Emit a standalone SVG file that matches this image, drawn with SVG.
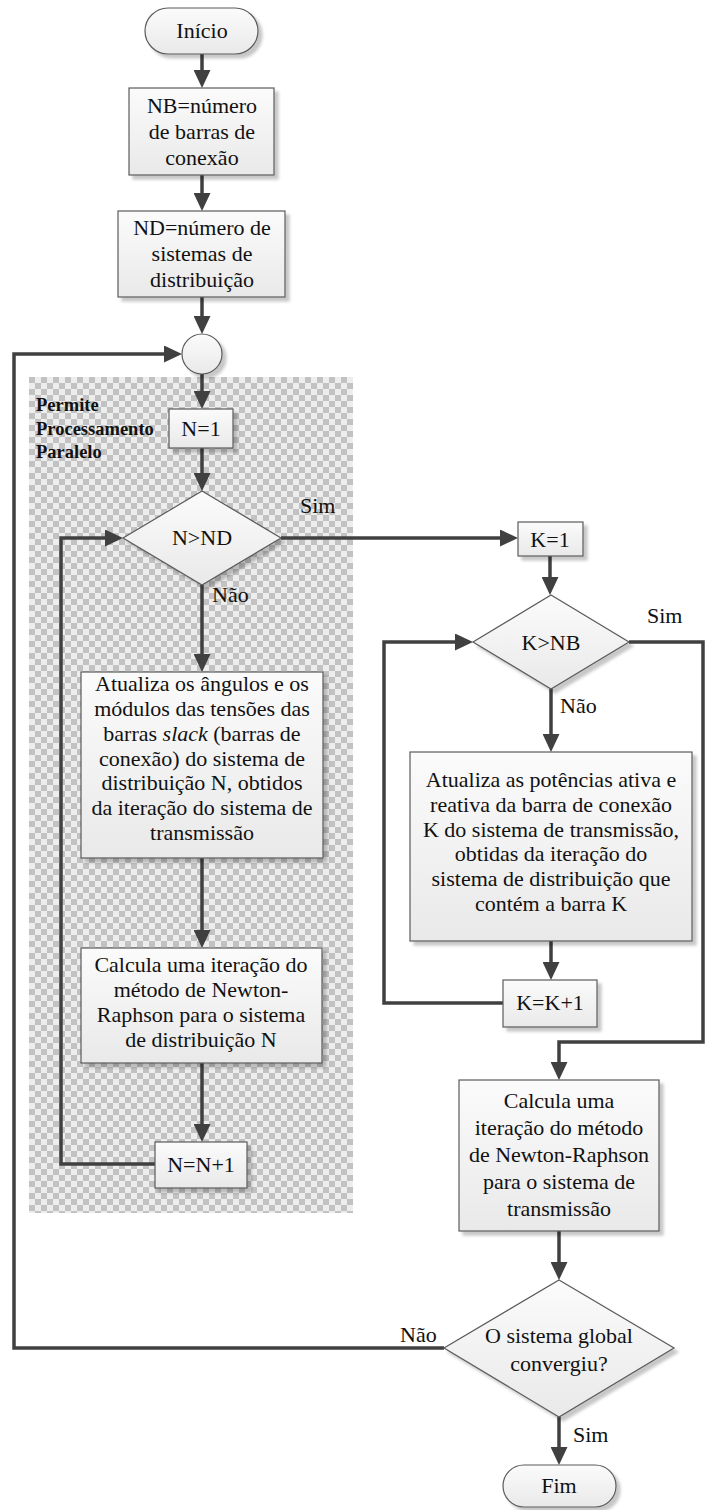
<svg xmlns="http://www.w3.org/2000/svg" width="705" height="1510" viewBox="0 0 705 1510" font-family="'Liberation Serif', 'DejaVu Serif', serif">
  <defs>
    <style>
      text { font-family: "Liberation Serif", "DejaVu Serif", serif; font-size: 22px; fill: #111; }
      .c { text-anchor: middle; }
      .b { font-weight: bold; font-size: 18.5px; }
      .shape { fill: url(#boxFill); stroke: #5a5a5a; stroke-width: 1.2; filter: url(#shadow); }
      .conn { fill: none; stroke: #404040; stroke-width: 3.5; }
      .arrow { marker-end: url(#head); }
    </style>
    <linearGradient id="boxFill" x1="0" y1="0" x2="0" y2="1">
      <stop offset="0" stop-color="#fbfbfb"/>
      <stop offset="1" stop-color="#e9e9e9"/>
    </linearGradient>
    <filter id="shadow" x="-10%" y="-10%" width="130%" height="130%">
      <feDropShadow dx="4" dy="4" stdDeviation="1.5" flood-color="#000" flood-opacity="0.22"/>
    </filter>
    <pattern id="checker" patternUnits="userSpaceOnUse" x="29" y="377" width="12" height="12">
      <rect width="12" height="12" fill="#ededed"/>
      <rect width="6" height="6" fill="#c2c2c2"/>
      <rect x="6" y="6" width="6" height="6" fill="#c2c2c2"/>
    </pattern>
    <marker id="head" markerUnits="userSpaceOnUse" markerWidth="18" markerHeight="17" refX="14" refY="8.5" orient="auto">
      <path d="M0,0 L18,8.5 L0,17 Z" fill="#404040"/>
    </marker>
  </defs>

  <rect width="705" height="1510" fill="#fff"/>

  <!-- parallel-processing region -->
  <g id="parallel-region">
    <rect x="29" y="377" width="324" height="836" fill="url(#checker)"/>
    <text class="b" x="36" y="411">Permite</text>
    <text class="b" x="36" y="435">Processamento</text>
    <text class="b" x="36" y="458">Paralelo</text>
  </g>

  <!-- connectors -->
  <g id="connectors">
    <path class="conn arrow" d="M202,54 V84"/>
    <path class="conn arrow" d="M202,175 V207"/>
    <path class="conn arrow" d="M202,297 V330"/>
    <path class="conn arrow" d="M202,374 V405"/>
    <path class="conn arrow" d="M202,448 V487"/>
    <path class="conn arrow" d="M202,585 V668"/>
    <path class="conn arrow" d="M202,858 V944"/>
    <path class="conn arrow" d="M202,1063 V1138"/>
    <path class="conn arrow" d="M155,1164 H61 V538 H119"/>
    <path class="conn arrow" d="M281,538 H514"/>
    <path class="conn arrow" d="M550,556 V591"/>
    <path class="conn arrow" d="M551,689 V748"/>
    <path class="conn arrow" d="M551,941 V976"/>
    <path class="conn arrow" d="M503,1003 H384 V642 H469"/>
    <path class="conn arrow" d="M629,642 H703 V1042 H559 V1076"/>
    <path class="conn arrow" d="M559,1231 V1276"/>
    <path class="conn arrow" d="M444,1348 H14 V354 H178"/>
    <path class="conn arrow" d="M559,1417 V1461"/>
    <text x="300" y="513">Sim</text>
    <text x="212" y="602">Não</text>
    <text x="647" y="623">Sim</text>
    <text x="560" y="713">Não</text>
    <text x="400" y="1342">Não</text>
    <text x="573" y="1442">Sim</text>
  </g>

  <g id="inicio">
    <rect class="shape" x="145" y="8" width="113" height="46" rx="23"/>
    <text class="c" x="202" y="38">Início</text>
  </g>

  <g id="nb">
    <rect class="shape" x="129" y="88" width="145" height="87"/>
    <text class="c" x="202" y="113">NB=número</text>
    <text class="c" x="202" y="139">de barras de</text>
    <text class="c" x="202" y="165">conexão</text>
  </g>

  <g id="nd">
    <rect class="shape" x="118" y="211" width="167" height="86"/>
    <text class="c" x="202" y="235">ND=número de</text>
    <text class="c" x="202" y="261">sistemas de</text>
    <text class="c" x="202" y="287">distribuição</text>
  </g>

  <g id="juncao">
    <circle class="shape" cx="202" cy="354" r="20"/>
  </g>

  <g id="n-inicial">
    <rect class="shape" x="169" y="409" width="64" height="39"/>
    <text class="c" x="201" y="436">N=1</text>
  </g>

  <g id="teste-n">
    <polygon class="shape" points="202,491 281,538 202,585 123,538"/>
    <text class="c" x="202" y="545">N&gt;ND</text>
  </g>

  <g id="atualiza-distribuicao">
    <rect class="shape" x="81" y="672" width="242" height="186"/>
    <text class="c" x="202" y="691">Atualiza os ângulos e os</text>
    <text class="c" x="202" y="716">módulos das tensões das</text>
    <text class="c" x="202" y="741">barras <tspan font-style="italic">slack</tspan> (barras de</text>
    <text class="c" x="202" y="766">conexão) do sistema de</text>
    <text class="c" x="202" y="790">distribuição N, obtidos</text>
    <text class="c" x="202" y="815">da iteração do sistema de</text>
    <text class="c" x="202" y="840">transmissão</text>
  </g>

  <g id="calcula-distribuicao">
    <rect class="shape" x="81" y="948" width="241" height="115"/>
    <text class="c" x="201" y="972">Calcula uma iteração do</text>
    <text class="c" x="201" y="997">método de Newton-</text>
    <text class="c" x="201" y="1022">Raphson para o sistema</text>
    <text class="c" x="201" y="1047">de distribuição N</text>
  </g>

  <g id="n-incremento">
    <rect class="shape" x="155" y="1142" width="92" height="46"/>
    <text class="c" x="201" y="1172">N=N+1</text>
  </g>

  <g id="k-inicial">
    <rect class="shape" x="518" y="522" width="65" height="34"/>
    <text class="c" x="550" y="547">K=1</text>
  </g>

  <g id="teste-k">
    <polygon class="shape" points="551,595 629,642 551,689 473,642"/>
    <text class="c" x="551" y="650">K&gt;NB</text>
  </g>

  <g id="atualiza-transmissao">
    <rect class="shape" x="410" y="752" width="282" height="189"/>
    <text class="c" x="551" y="787">Atualiza as potências ativa e</text>
    <text class="c" x="551" y="812">reativa da barra de conexão</text>
    <text class="c" x="551" y="837">K do sistema de transmissão,</text>
    <text class="c" x="551" y="861">obtidas da iteração do</text>
    <text class="c" x="551" y="886">sistema de distribuição que</text>
    <text class="c" x="551" y="911">contém a barra K</text>
  </g>

  <g id="k-incremento">
    <rect class="shape" x="503" y="980" width="94" height="47"/>
    <text class="c" x="550" y="1010">K=K+1</text>
  </g>

  <g id="calcula-transmissao">
    <rect class="shape" x="459" y="1080" width="200" height="151"/>
    <text class="c" x="559" y="1108">Calcula uma</text>
    <text class="c" x="559" y="1135">iteração do método</text>
    <text class="c" x="559" y="1162">de Newton-Raphson</text>
    <text class="c" x="559" y="1189">para o sistema de</text>
    <text class="c" x="559" y="1216">transmissão</text>
  </g>

  <g id="convergencia">
    <polygon class="shape" points="559,1280 674,1348 559,1417 444,1348"/>
    <text class="c" x="559" y="1343">O sistema global</text>
    <text class="c" x="559" y="1371">convergiu?</text>
  </g>

  <g id="fim">
    <rect class="shape" x="503" y="1465" width="113" height="42" rx="21"/>
    <text class="c" x="559" y="1493">Fim</text>
  </g>
</svg>
